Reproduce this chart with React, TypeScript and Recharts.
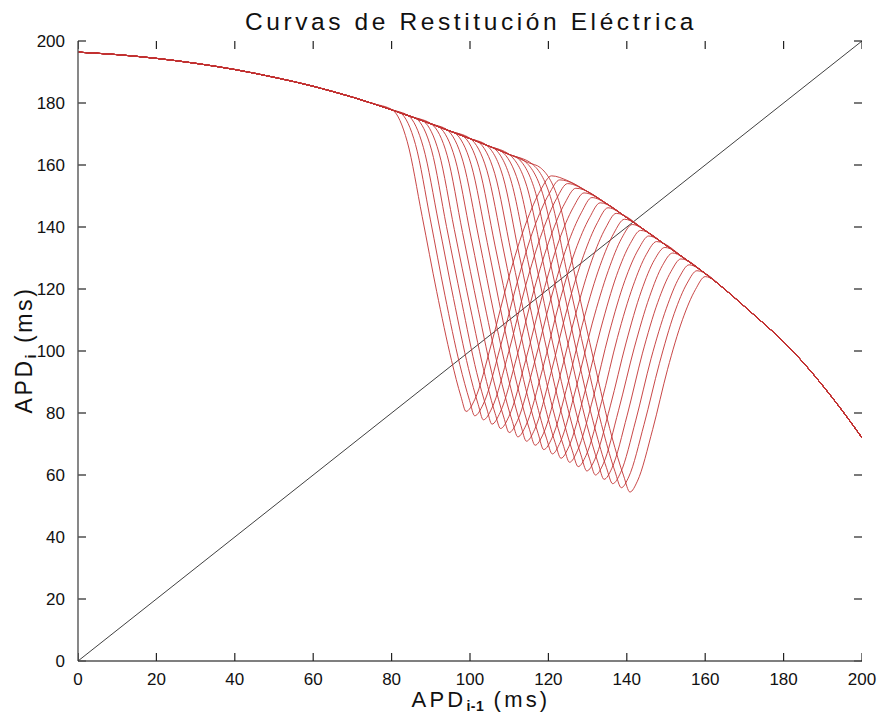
import { LineChart, Line, XAxis, YAxis, ReferenceLine } from "recharts";

const ENV_X = [0, 10, 20, 30, 40, 50, 60, 65, 70, 75, 80, 85, 90, 95, 100, 105, 110, 115, 120, 125, 130, 135, 140, 145, 150, 155, 160, 165, 170, 175, 180, 185, 190, 195, 200];
const ENV_Y = [196.4, 195.6, 194.4, 192.8, 190.8, 188.3, 185.4, 183.7, 181.9, 179.9, 177.8, 175.6, 173.3, 170.9, 168.5, 166.0, 163.4, 160.7, 158.0, 154.9, 151.4, 147.4, 143.0, 138.6, 134.1, 129.6, 125.0, 119.9, 114.4, 108.8, 103.0, 96.3, 88.8, 80.7, 72.0];

const AXIS_TICKS = [0, 20, 40, 60, 80, 100, 120, 140, 160, 180, 200];
const AXIS_MIN = 0;
const AXIS_MAX = 200;

const DIAG_X = [0, 200];
const DIAG_Y = [0, 200];

// each curve: where it leaves the envelope, its trough, and where it climbs back
const curve01 = [[80.3, 177.7], [84.0, 167.5], [87.8, 143.4], [91.5, 119.2], [95.3, 96.9], [97.7, 85.3], [99.0, 80.5], [101.2, 84.3], [105.5, 102.5], [109.9, 123.8], [114.3, 141.3], [118.0, 151.9], [120.8, 156.5]];
const curve02 = [[82.3, 176.8], [86.1, 166.6], [89.9, 142.3], [93.6, 118.0], [97.4, 95.6], [99.9, 84.0], [101.2, 79.1], [103.4, 82.9], [107.7, 101.1], [112.1, 122.4], [116.4, 139.9], [120.1, 150.5], [122.9, 155.2]];
const curve03 = [[84.3, 175.9], [88.1, 165.7], [92.0, 141.3], [95.8, 116.9], [99.6, 94.4], [102.1, 82.7], [103.4, 77.8], [105.6, 81.6], [109.9, 99.8], [114.2, 121.1], [118.5, 138.6], [122.1, 149.2], [124.9, 154.0]];
const curve04 = [[86.3, 175.0], [90.2, 164.8], [94.0, 140.2], [97.9, 115.7], [101.7, 93.1], [104.3, 81.3], [105.6, 76.4], [107.7, 80.2], [112.0, 98.4], [116.3, 119.6], [120.6, 137.0], [124.2, 147.7], [127.0, 152.5]];
const curve05 = [[88.2, 174.1], [92.1, 163.9], [96.0, 139.2], [100.0, 114.5], [103.9, 91.8], [106.4, 79.9], [107.8, 75.0], [109.9, 78.8], [114.2, 97.0], [118.5, 118.1], [122.7, 135.6], [126.3, 146.2], [129.1, 151.0]];
const curve06 = [[90.2, 173.2], [94.2, 163.0], [98.1, 138.2], [102.1, 113.4], [106.0, 90.6], [108.6, 78.7], [110.0, 73.7], [112.1, 77.5], [116.3, 95.6], [120.6, 116.7], [124.8, 134.0], [128.4, 144.6], [131.1, 149.5]];
const curve07 = [[92.2, 172.2], [96.2, 162.0], [100.2, 137.1], [104.2, 112.2], [108.2, 89.2], [110.8, 77.3], [112.2, 72.3], [114.3, 76.1], [118.5, 94.1], [122.7, 115.2], [126.9, 132.5], [130.5, 143.0], [133.2, 147.8]];
const curve08 = [[94.2, 171.3], [98.2, 161.2], [102.3, 136.1], [106.3, 111.0], [110.4, 88.0], [113.0, 75.9], [114.4, 70.9], [116.5, 74.7], [120.6, 92.7], [124.8, 113.7], [129.0, 130.9], [132.5, 141.4], [135.2, 146.2]];
const curve09 = [[96.2, 170.3], [100.3, 160.1], [104.4, 135.0], [108.4, 109.8], [112.5, 86.7], [115.2, 74.6], [116.6, 69.6], [118.7, 73.3], [122.8, 91.2], [127.0, 112.1], [131.1, 129.3], [134.6, 139.7], [137.3, 144.4]];
const curve10 = [[98.2, 169.4], [102.3, 159.2], [106.4, 133.9], [110.6, 108.6], [114.7, 85.4], [117.4, 73.3], [118.8, 68.2], [120.9, 71.9], [125.0, 89.7], [129.1, 110.6], [133.2, 127.6], [136.7, 138.0], [139.4, 142.5]];
const curve11 = [[100.1, 168.5], [104.3, 158.3], [108.5, 132.9], [112.6, 107.5], [116.8, 84.1], [119.5, 71.9], [121.0, 66.8], [123.0, 70.5], [127.1, 88.3], [131.2, 109.0], [135.3, 126.0], [138.7, 136.4], [141.4, 140.8]];
const curve12 = [[102.1, 167.5], [106.3, 157.3], [110.5, 131.8], [114.8, 106.2], [119.0, 82.8], [121.7, 70.5], [123.2, 65.4], [125.2, 69.1], [129.3, 86.8], [133.4, 107.4], [137.4, 124.4], [140.9, 134.7], [143.5, 138.9]];
const curve13 = [[104.1, 166.5], [108.4, 156.3], [112.6, 130.7], [116.9, 105.1], [121.1, 81.5], [123.9, 69.2], [125.4, 64.1], [127.4, 67.8], [131.5, 85.3], [135.5, 105.8], [139.5, 122.7], [143.0, 132.9], [145.6, 137.1]];
const curve14 = [[106.1, 165.4], [110.4, 155.2], [114.7, 129.5], [119.0, 103.8], [123.3, 80.2], [126.1, 67.8], [127.6, 62.7], [129.6, 66.3], [133.6, 83.8], [137.6, 104.3], [141.6, 121.0], [145.0, 131.2], [147.6, 135.3]];
const curve15 = [[108.1, 164.4], [112.4, 154.2], [116.8, 128.4], [121.1, 102.6], [125.5, 78.8], [128.3, 66.5], [129.8, 61.3], [131.8, 64.9], [135.8, 82.3], [139.8, 102.6], [143.7, 119.3], [147.1, 129.5], [149.7, 133.4]];
const curve16 = [[110.1, 163.3], [114.5, 153.1], [118.9, 127.2], [123.2, 101.4], [127.6, 77.6], [130.5, 65.2], [132.0, 60.0], [134.0, 63.6], [137.9, 80.9], [141.9, 101.0], [145.8, 117.5], [149.1, 127.6], [151.7, 131.6]];
const curve17 = [[112.1, 162.3], [116.5, 152.0], [120.9, 126.1], [125.4, 100.1], [129.8, 76.3], [132.7, 63.8], [134.2, 58.6], [136.2, 62.2], [140.1, 79.3], [144.0, 99.3], [147.9, 115.7], [151.3, 125.7], [153.8, 129.7]];
const curve18 = [[114.0, 161.2], [118.5, 150.9], [123.0, 124.9], [127.4, 98.8], [131.9, 74.9], [134.8, 62.4], [136.4, 57.2], [138.4, 60.7], [142.3, 77.7], [146.2, 97.6], [150.1, 113.8], [153.4, 123.8], [155.9, 127.8]];
const curve19 = [[116.0, 160.2], [120.5, 149.8], [125.0, 123.7], [129.6, 97.6], [134.1, 73.6], [137.0, 61.1], [138.6, 55.9], [140.5, 59.4], [144.4, 76.3], [148.3, 95.9], [152.1, 112.1], [155.4, 121.9], [157.9, 125.9]];
const curve20 = [[118.0, 159.1], [122.6, 148.6], [127.1, 122.5], [131.7, 96.3], [136.2, 72.3], [139.2, 59.7], [140.8, 54.5], [142.7, 58.0], [146.6, 74.7], [150.4, 94.1], [154.2, 110.1], [157.5, 119.8], [160.0, 124.0]];

const CURVES = [
  curve01, curve02, curve03, curve04, curve05, curve06, curve07, curve08, curve09, curve10,
  curve11, curve12, curve13, curve14, curve15, curve16, curve17, curve18, curve19, curve20,
];

// envelope before the drop + the excursion + envelope after it rejoins
function buildCurve(exc: number[][]) {
  const start = exc[0][0];
  const end = exc[exc.length - 1][0];
  const pts: { x: number; y: number }[] = [];
  ENV_X.forEach((x, i) => {
    if (x < start - 1) pts.push({ x, y: ENV_Y[i] });
  });
  exc.forEach(([x, y]) => pts.push({ x, y }));
  ENV_X.forEach((x, i) => {
    if (x > end + 3) pts.push({ x, y: ENV_Y[i] });
  });
  return pts;
}

const diagData = DIAG_X.map((x, i) => ({ x, y: DIAG_Y[i] }));
const bottomTickData = AXIS_TICKS.map((x) => ({ x, y: AXIS_MIN }));
const topTickData = AXIS_TICKS.map((x) => ({ x, y: AXIS_MAX }));

const FONT = "'Liberation Sans', Arial, Helvetica, sans-serif";
const AXIS_COLOR = "#555";
const TICK_COLOR = "#222";
const TICK_LEN = 8;
const tickStyle = { fill: "#111", fontSize: 17, fontFamily: FONT };

// MATLAB style inner tick marks on the left/right edges: ends of a horizontal reference line
const HTickPair = (p: any) => {
  const { x1, y1, x2, y2 } = p;
  if ([x1, y1, x2, y2].some((v) => typeof v !== "number" || isNaN(v))) return <g />;
  const s = Math.sign(x2 - x1) || 1;
  return (
    <g>
      <line x1={x1} y1={y1} x2={x1 + s * TICK_LEN} y2={y1} stroke={TICK_COLOR} strokeWidth={1.2} />
      <line x1={x2} y1={y2} x2={x2 - s * TICK_LEN} y2={y2} stroke={TICK_COLOR} strokeWidth={1.2} />
    </g>
  );
};

// inner tick marks on the bottom/top edges, drawn as the "dots" of an invisible series
const TickUpDot = (p: any) => (
  <line key={`u${p.index}`} x1={p.cx} x2={p.cx} y1={p.cy} y2={p.cy - TICK_LEN} stroke={TICK_COLOR} strokeWidth={1.2} />
);
const TickDownDot = (p: any) => (
  <line key={`d${p.index}`} x1={p.cx} x2={p.cx} y1={p.cy} y2={p.cy + TICK_LEN} stroke={TICK_COLOR} strokeWidth={1.2} />
);

export default function App() {
  return (
    <div
      style={{
        position: "absolute",
        left: 0,
        top: 0,
        width: 883,
        height: 717,
        background: "#fff",
        fontFamily: FONT,
        color: "#111",
      }}
    >
      <LineChart width={883} height={717} margin={{ top: 41, right: 21, bottom: 26, left: 8 }}>
        <XAxis
          xAxisId="b"
          type="number"
          dataKey="x"
          domain={[0, 200]}
          ticks={AXIS_TICKS}
          interval={0}
          height={30}
          stroke={AXIS_COLOR}
          strokeWidth={1.4}
          tickLine={false}
          tickMargin={6}
          tick={tickStyle}
          allowDataOverflow
        />
        <YAxis
          yAxisId="l"
          type="number"
          domain={[0, 200]}
          ticks={AXIS_TICKS}
          interval={0}
          width={70}
          stroke={AXIS_COLOR}
          strokeWidth={1.4}
          tickLine={false}
          tickMargin={7}
          tick={tickStyle}
          allowDataOverflow
        />
        <XAxis
          xAxisId="t"
          orientation="top"
          type="number"
          dataKey="x"
          domain={[0, 200]}
          ticks={AXIS_TICKS}
          height={0}
          stroke={AXIS_COLOR}
          strokeWidth={1.4}
          tickLine={false}
          tick={false}
          allowDataOverflow
        />
        <YAxis
          yAxisId="r"
          orientation="right"
          type="number"
          domain={[0, 200]}
          ticks={AXIS_TICKS}
          width={0}
          stroke={AXIS_COLOR}
          strokeWidth={1.4}
          tickLine={false}
          tick={false}
          allowDataOverflow
        />
        {AXIS_TICKS.map((v) => (
          <ReferenceLine key={`hy${v}`} xAxisId="b" yAxisId="l" y={v} ifOverflow="visible" shape={HTickPair} />
        ))}
        <Line
          xAxisId="t"
          yAxisId="r"
          data={diagData}
          dataKey="y"
          type="linear"
          stroke="#2a2a2a"
          strokeWidth={0.9}
          dot={false}
          activeDot={false}
          isAnimationActive={false}
        />
        {CURVES.map((c, i) => (
          <Line
            key={i}
            xAxisId="b"
            yAxisId="l"
            data={buildCurve(c)}
            dataKey="y"
            type="monotone"
            stroke="#c23232"
            strokeWidth={0.9}
            dot={false}
            activeDot={false}
            isAnimationActive={false}
          />
        ))}
        <Line
          xAxisId="b"
          yAxisId="l"
          data={bottomTickData}
          dataKey="y"
          stroke="none"
          strokeWidth={0}
          dot={TickUpDot}
          activeDot={false}
          legendType="none"
          isAnimationActive={false}
        />
        <Line
          xAxisId="b"
          yAxisId="l"
          data={topTickData}
          dataKey="y"
          stroke="none"
          strokeWidth={0}
          dot={TickDownDot}
          activeDot={false}
          legendType="none"
          isAnimationActive={false}
        />
      </LineChart>

      <div
        style={{
          position: "absolute",
          left: 471,
          top: 10,
          transform: "translateX(-50%)",
          fontSize: 24.5,
          letterSpacing: 3.6,
          whiteSpace: "nowrap",
          lineHeight: 1,
        }}
      >
        Curvas de Restitución Eléctrica
      </div>

      <div
        style={{
          position: "absolute",
          left: 481,
          top: 689,
          transform: "translateX(-50%)",
          fontSize: 22,
          letterSpacing: 3.2,
          whiteSpace: "nowrap",
          lineHeight: 1,
        }}
      >
        APD<span style={{ fontSize: 14, fontWeight: "bold", letterSpacing: 0.5, verticalAlign: -4 }}>i-1</span> (ms)
      </div>

      <div
        style={{
          position: "absolute",
          left: 25,
          top: 350,
          transform: "translate(-50%, -50%) rotate(-90deg)",
          fontSize: 23,
          letterSpacing: 2.6,
          whiteSpace: "nowrap",
          lineHeight: 1,
        }}
      >
        APD<span style={{ fontSize: 14, fontWeight: "bold", verticalAlign: -4 }}>i</span> (ms)
      </div>
    </div>
  );
}
